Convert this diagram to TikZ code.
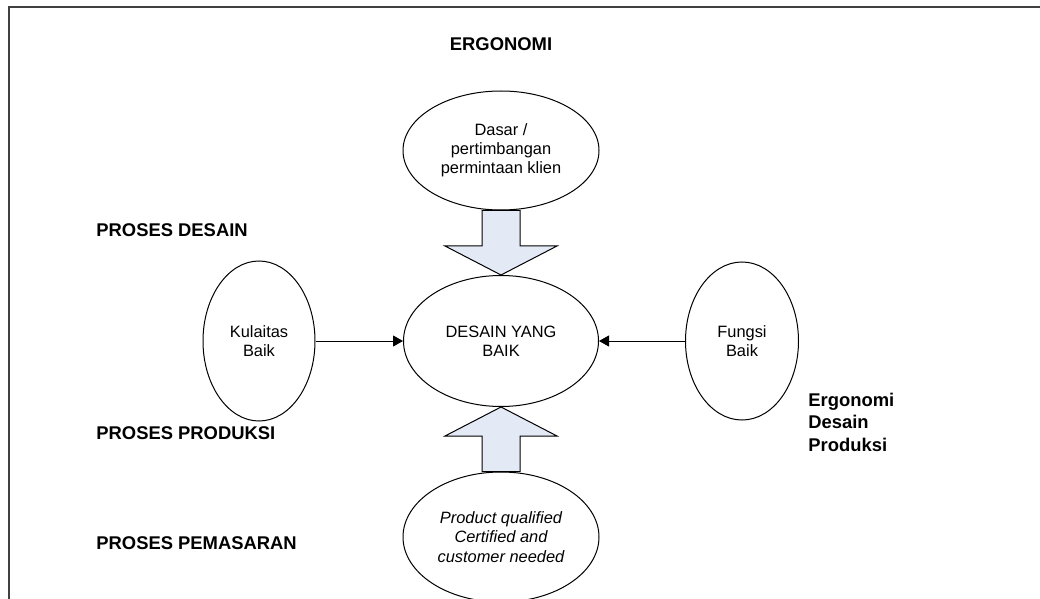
\documentclass[tikz,border=0pt]{standalone}
\usepackage{fontspec}
\setmainfont{Liberation Sans}
\usepackage{tikz}
\usetikzlibrary{arrows.meta,positioning,calc,shapes.geometric}
\definecolor{arrowfill}{RGB}{227,234,246}
\tikzset{
  oval/.style={shape=ellipse,draw,line width=0.5pt,inner sep=0pt,align=center,
    font=\fontsize{8.2}{9.4}\selectfont},
  conn/.style={-{Triangle[length=5pt,width=5.5pt]},line width=0.5pt},
  blockarrow/.style={draw,fill=arrowfill,line width=0.5pt},
  heading/.style={inner sep=0pt,font=\bfseries\fontsize{9.2}{11.25}\selectfont},
  frame/.style={draw=black!75,line width=0.75pt}
}
\begin{document}
\begin{tikzpicture}[x=0.5pt,y=-0.5pt]
\clip (0,0) rectangle (1040,599);
\draw[frame] (9,610) -- (9,7) -- (1050,7);

\node[heading] (ergo) at (501,44) {ERGONOMI};
\node[heading,anchor=west] (pdesain) at (96,230) {PROSES DESAIN};
\node[heading,anchor=west] (pproduksi) at (96,433) {PROSES PRODUKSI};
\node[heading,anchor=west] (ppemasaran) at (96,543) {PROSES PEMASARAN};
\node[heading,anchor=west,align=left] (edp) at (808,422) {Ergonomi\\Desain\\Produksi};

\node[oval,minimum width=98pt,minimum height=59.5pt] (dasar) at (501,150.5) {Dasar /\\pertimbangan\\permintaan klien};
\node[oval,minimum width=97.5pt,minimum height=65.5pt] (desain) at (501,341) {DESAIN YANG\\BAIK};
\node[oval,minimum width=98pt,minimum height=65pt,font=\itshape\fontsize{8.2}{9.8}\selectfont] (produk) at (501,537) {Product qualified\\Certified and\\customer needed};
\node[oval,minimum width=56pt,minimum height=80pt] (kualitas) at (259,341) {Kulaitas\\Baik} edge[conn] (desain);
\node[oval,minimum width=56.5pt,minimum height=79pt] (fungsi) at (742,341) {Fungsi\\Baik} edge[conn] (desain);

\draw[blockarrow] ($(dasar.south)+(-19,0)$) -- ($(desain.north)+(-19,-29)$) -- ($(desain.north)+(-56,-29)$)
  -- (desain.north) -- ($(desain.north)+(56,-29)$) -- ($(desain.north)+(19,-29)$) -- ($(dasar.south)+(19,0)$) -- cycle;
\draw[blockarrow] ($(produk.north)+(-19,0)$) -- ($(desain.south)+(-19,29)$) -- ($(desain.south)+(-56,29)$)
  -- (desain.south) -- ($(desain.south)+(56,29)$) -- ($(desain.south)+(19,29)$) -- ($(produk.north)+(19,0)$) -- cycle;
\end{tikzpicture}
\end{document}
